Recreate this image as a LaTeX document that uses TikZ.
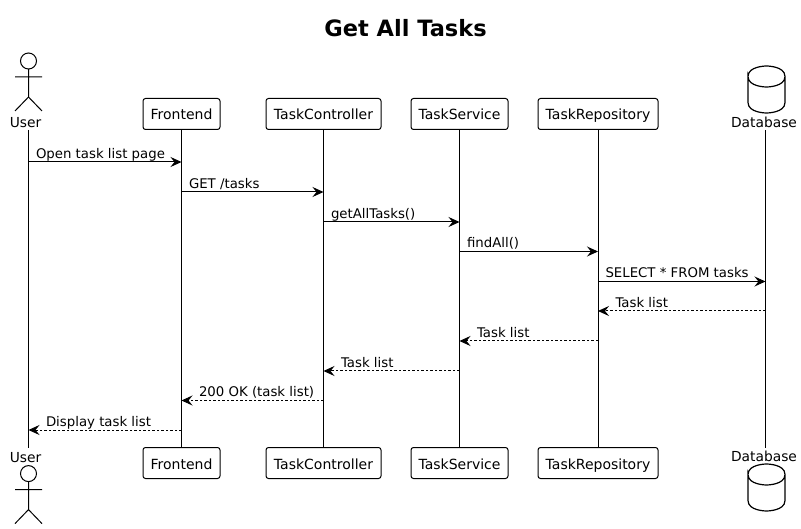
\documentclass[tikz,border=0pt]{standalone}
\usepackage{fontspec}
\setmainfont{DejaVu Sans}
\usetikzlibrary{arrows.meta,positioning,calc}
\begin{document}
\begin{tikzpicture}[x=1pt,y=-1pt,line width=1pt,
part/.style={draw,rounded corners=2.5pt,fill=white,inner sep=0pt,minimum height=31pt,text height=13pt,text depth=1pt,font=\fontsize{14}{16}\selectfont},
tag/.style={inner sep=0pt,anchor=base,font=\fontsize{13.8}{16}\selectfont},
title/.style={inner sep=0pt,anchor=base,font=\bfseries\fontsize{22.5}{25}\selectfont},
call/.style={-{Stealth[length=11pt,width=10pt,inset=4pt]}},
back/.style={call,densely dashed,dash pattern=on 2.5pt off 2pt},
lbl/.style={inner sep=0pt,anchor=base west,yshift=3.5pt,font=\fontsize{13.3}{15}\selectfont},
lifeline/.style={line width=1pt}]
\useasboundingbox[fill=white](0,0)rectangle(801,529);
\node[title](head)at(405.5,37){Get All Tasks};
% top row
\node[tag](user)at(25.5,128){User};
\node[part,minimum width=77pt](front)at(181.5,114){Frontend};
\node[part,minimum width=115pt](ctrl)at(323.5,114){TaskController};
\node[part,minimum width=97pt](svc)at(459.5,114){TaskService};
\node[part,minimum width=120pt](repo)at(598,114){TaskRepository};
\node[tag](db)at(764,127.5){Database};
% bottom row
\node[tag](userb)at(25.5,462){User};
\node[part,minimum width=77pt](frontb)at(181.5,463){Frontend};
\node[part,minimum width=115pt](ctrlb)at(323.5,463){TaskController};
\node[part,minimum width=97pt](svcb)at(459.5,463){TaskService};
\node[part,minimum width=120pt](repob)at(598,463){TaskRepository};
\node[tag](dbb)at(764,461.5){Database};
% lifeline positions
\coordinate(userx)at(28.5,130);\coordinate(dbx)at(765.5,130);
\coordinate(userz)at(28.5,448);\coordinate(dbz)at(765.5,448);
% actors and cylinders
\foreach \dy in {0,412.6}{
\draw[yshift=-\dy pt](28.5,61)circle[radius=8]
  (28.5,69)--(28.5,97)(15,77)--(42,77)(15,111)--(28.5,97)--(42,111);
}
\foreach \dy in {0,398}{
\draw[yshift=-\dy pt,line width=1.2pt](748,76.5)..controls(748,66)and(766.5,66)..(766.5,66)
  ..controls(766.5,66)and(785,66)..(785,76.5)--(785,102.5)..controls(785,113)and(766.5,113)..(766.5,113)
  ..controls(766.5,113)and(748,113)..(748,102.5)--(748,76.5)..controls(748,87)and(766.5,87)..(766.5,87)
  ..controls(766.5,87)and(785,87)..(785,76.5);
}
% lifelines
\draw[lifeline](userx)--(userz);
\draw[lifeline](front.south)--(frontb.north);
\draw[lifeline](ctrl.south)--(ctrlb.north);
\draw[lifeline](svc.south)--(svcb.north);
\draw[lifeline](repo.south)--(repob.north);
\draw[lifeline](dbx)--(dbz);
% rows
\coordinate(m1)at(0,162);\coordinate(m2)at(0,192);\coordinate(m3)at(0,222);
\coordinate(m4)at(0,251.5);\coordinate(m5)at(0,281.5);\coordinate(m6)at(0,311);
\coordinate(m7)at(0,341);\coordinate(m8)at(0,371);\coordinate(m9)at(0,400.5);
\coordinate(m10)at(0,430);
% messages
\draw[call](userx|-m1)--node[lbl,pos=0,xshift=7pt](t1){Open task list page}(front|-m1);
\draw[call](front|-m2)--node[lbl,pos=0,xshift=7pt](t2){GET /tasks}(ctrl|-m2);
\draw[call](ctrl|-m3)--node[lbl,pos=0,xshift=7pt](t3){getAllTasks()}(svc|-m3);
\draw[call](svc|-m4)--node[lbl,pos=0,xshift=7pt](t4){findAll()}(repo|-m4);
\draw[call](repo|-m5)--node[lbl,pos=0,xshift=7pt](t5){SELECT * FROM tasks}(dbx|-m5);
\draw[back](dbx|-m6)--node[lbl,pos=1,xshift=17pt](t6){Task list}(repo|-m6);
\draw[back](repo|-m7)--node[lbl,pos=1,xshift=17pt](t7){Task list}(svc|-m7);
\draw[back](svc|-m8)--node[lbl,pos=1,xshift=17pt](t8){Task list}(ctrl|-m8);
\draw[back](ctrl|-m9)--node[lbl,pos=1,xshift=17pt](t9){200 OK (task list)}(front|-m9);
\draw[back](front|-m10)--node[lbl,pos=1,xshift=17pt](t10){Display task list}(userx|-m10);
\end{tikzpicture}
\end{document}
